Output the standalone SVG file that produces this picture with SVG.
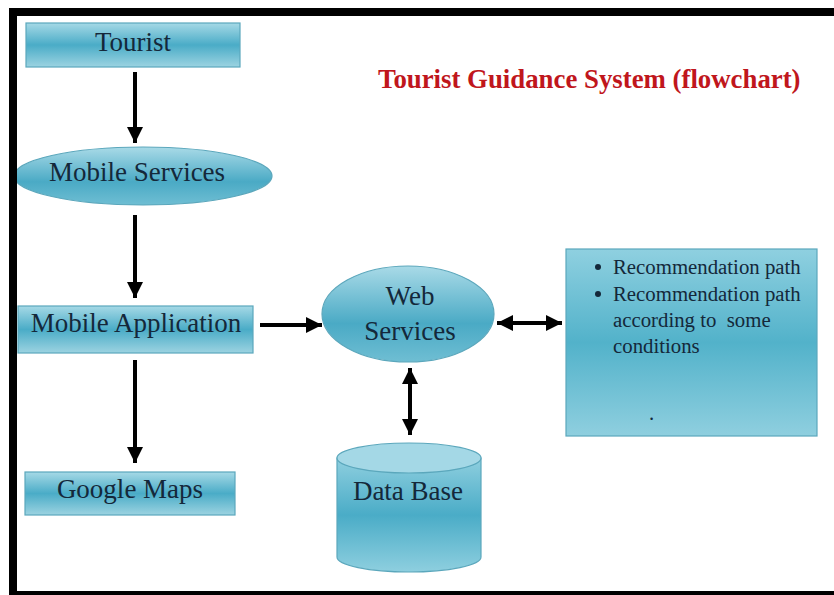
<svg xmlns="http://www.w3.org/2000/svg" width="834" height="595" viewBox="0 0 834 595">
<defs>
<linearGradient id="gRect" x1="0" y1="0" x2="0" y2="1">
<stop offset="0" stop-color="#a6d9e6"/>
<stop offset="0.5" stop-color="#4aacc7"/>
<stop offset="1" stop-color="#9cd3e1"/>
</linearGradient>
<linearGradient id="gEll" x1="0" y1="0" x2="0" y2="1">
<stop offset="0" stop-color="#a9dae7"/>
<stop offset="0.6" stop-color="#4aaac5"/>
<stop offset="1" stop-color="#6fbed3"/>
</linearGradient>
<linearGradient id="gBox" x1="0" y1="0" x2="0" y2="1">
<stop offset="0" stop-color="#8fd0e0"/>
<stop offset="0.5" stop-color="#52b2ca"/>
<stop offset="1" stop-color="#8fcfdf"/>
</linearGradient>
<linearGradient id="gCyl" x1="0" y1="0" x2="0" y2="1">
<stop offset="0" stop-color="#8fcfdf"/>
<stop offset="0.5" stop-color="#4aacc7"/>
<stop offset="1" stop-color="#8ecfdf"/>
</linearGradient>
<marker id="ah" viewBox="0 0 16 16" refX="16" refY="8" markerWidth="16" markerHeight="16" markerUnits="userSpaceOnUse" orient="auto-start-reverse">
<path d="M0,0 L16,8 L0,16 Z" fill="#000"/>
</marker>
</defs>
<style>
.node{stroke:#5ba7bc;stroke-width:1.2}
.lbl{font-family:"Liberation Serif","Times New Roman",serif;font-size:27px;fill:#14283a;text-anchor:middle}
.small{font-family:"Liberation Serif","Times New Roman",serif;font-size:20.8px;fill:#14283a}
.title{font-family:"Liberation Serif","Times New Roman",serif;font-size:26.8px;font-weight:bold;fill:#c0161c}
.conn{stroke:#000;stroke-width:4;fill:none}
</style>
<rect width="834" height="595" fill="#fff"/>

<text class="title" x="378" y="88">Tourist Guidance System (flowchart)</text>

<g id="tourist">
<rect class="node" x="26" y="23" width="214" height="44" fill="url(#gRect)"/>
<text class="lbl" x="133" y="51">Tourist</text>
</g>

<g id="mobile-services">
<ellipse class="node" cx="143" cy="176" rx="129" ry="29" fill="url(#gEll)"/>
<text class="lbl" x="137" y="181">Mobile Services</text>
</g>

<g id="mobile-application">
<rect class="node" x="18" y="306" width="235" height="47" fill="url(#gRect)"/>
<text class="lbl" x="136" y="332">Mobile Application</text>
</g>

<g id="google-maps">
<rect class="node" x="25" y="472" width="210" height="43" fill="url(#gRect)"/>
<text class="lbl" x="130" y="498">Google Maps</text>
</g>

<g id="web-services">
<ellipse class="node" cx="408" cy="314" rx="86" ry="48" fill="url(#gEll)"/>
<text class="lbl" x="410" y="305">Web</text>
<text class="lbl" x="410" y="340">Services</text>
</g>

<g id="data-base">
<path class="node" d="M337,458 L337,557 A72,15 0 0 0 481,557 L481,458 Z" fill="url(#gCyl)"/>
<ellipse class="node" cx="409" cy="458" rx="72" ry="15" fill="#a4d8e6"/>
<text class="lbl" x="408" y="500">Data Base</text>
</g>

<g id="recommendation">
<rect class="node" x="566" y="249" width="251" height="187" fill="url(#gBox)"/>
<circle cx="598" cy="267" r="3" fill="#14283a"/>
<circle cx="598" cy="294" r="3" fill="#14283a"/>
<text class="small" x="613" y="274">Recommendation path</text>
<text class="small" x="613" y="301">Recommendation path</text>
<text class="small" x="613" y="327" xml:space="preserve">according to  some</text>
<text class="small" x="613" y="353">conditions</text>
<text class="small" x="649" y="420">.</text>
</g>

<g id="connectors">
<line class="conn" x1="135" y1="72" x2="135" y2="143" marker-end="url(#ah)"/>
<line class="conn" x1="135" y1="215" x2="135" y2="298" marker-end="url(#ah)"/>
<line class="conn" x1="135" y1="360" x2="135" y2="463" marker-end="url(#ah)"/>
<line class="conn" x1="260" y1="325" x2="322" y2="325" marker-end="url(#ah)"/>
<line class="conn" x1="497" y1="323" x2="562" y2="323" marker-start="url(#ah)" marker-end="url(#ah)"/>
<line class="conn" x1="410" y1="368" x2="410" y2="435" marker-start="url(#ah)" marker-end="url(#ah)"/>
</g>

<g id="frame" fill="#000">
<rect x="9" y="8" width="825" height="8"/>
<rect x="9" y="8" width="8" height="587"/>
<rect x="9" y="591" width="825" height="4"/>
</g>
</svg>
